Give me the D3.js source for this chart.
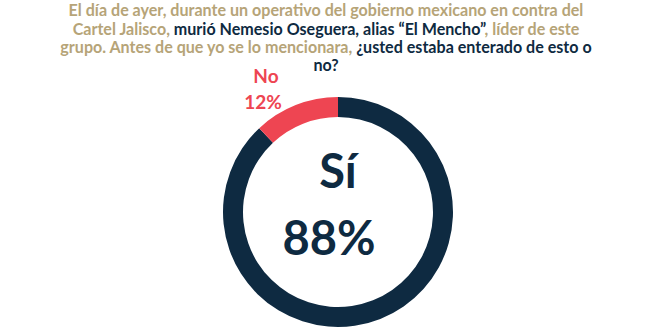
<!DOCTYPE html>
<html><head><meta charset="utf-8">
<script src="https://cdn.jsdelivr.net/npm/d3@7"></script>
<style>body{margin:0;background:#fff}svg{display:block}</style>
</head><body>
<svg id="c" width="660" height="330"></svg>
<script>
const categories = ["Sí", "No"];
const values = [88, 12];
const labels = ["88%", "12%"];
const titleLines = [
  [["El día de ayer, durante un operativo del gobierno mexicano en contra del", "t"]],
  [["Cartel Jalisco, ", "t"], ["murió Nemesio Oseguera, alias “El Mencho”", "n"], [", líder de este", "t"]],
  [["grupo. Antes de que yo se lo mencionara, ", "t"], ["¿usted estaba enterado de esto o", "n"]],
  [["no?", "n"]]
];

const NAVY = "#0e2a41", RED = "#ee4552", TAN = "#b6a478";
const FONT = "Lato, 'Open Sans', sans-serif";
const svg = d3.select("#c");

// Title
const title = svg.append("g").attr("font-family", FONT).attr("font-weight", 700).attr("text-anchor", "middle");
const baselines = [16, 35, 53, 71];
const tl = title.selectAll("text").data(titleLines).join("text")
  .attr("x", 326).attr("y", (d, i) => baselines[i]).attr("font-size", 16);
tl.selectAll("tspan").data(d => d).join("tspan")
  .text(d => d[0]).attr("fill", d => d[1] === "n" ? NAVY : TAN);
// fit first line width
const w0 = tl.node().getComputedTextLength();
const fs = 16 * 515 / w0;
tl.attr("font-size", fs);

// Donut
const cx = 338, cy = 212, rOut = 115, rIn = 95;
const pie = d3.pie().sort(null).value(d => d)
  .startAngle(0).endAngle(2 * Math.PI);
const arcs = pie(values);
const arc = d3.arc().innerRadius(rIn).outerRadius(rOut);
const g = svg.append("g").attr("transform", `translate(${cx},${cy})`);
const colors = d3.scaleOrdinal().domain(categories).range([NAVY, RED]);
g.selectAll("path").data(arcs).join("path")
  .attr("d", arc).attr("fill", (d, i) => colors(categories[i]));

// Center label
const txt = g.append("g").attr("font-family", FONT).attr("font-weight", 700)
  .attr("text-anchor", "middle").attr("fill", NAVY);
txt.append("text").attr("y", -24).attr("font-size", 47).text(categories[0]);
txt.append("text").attr("x", -9).attr("y", 43).attr("font-size", 47).text(labels[0]);

// No label
const lab = svg.append("g").attr("font-family", FONT).attr("font-weight", 700)
  .attr("text-anchor", "middle").attr("fill", RED).attr("font-size", 19);
lab.append("text").attr("x", 266).attr("y", 83).text(categories[1]);
lab.append("text").attr("x", 263).attr("y", 109).text(labels[1]);
</script>
</body></html>
